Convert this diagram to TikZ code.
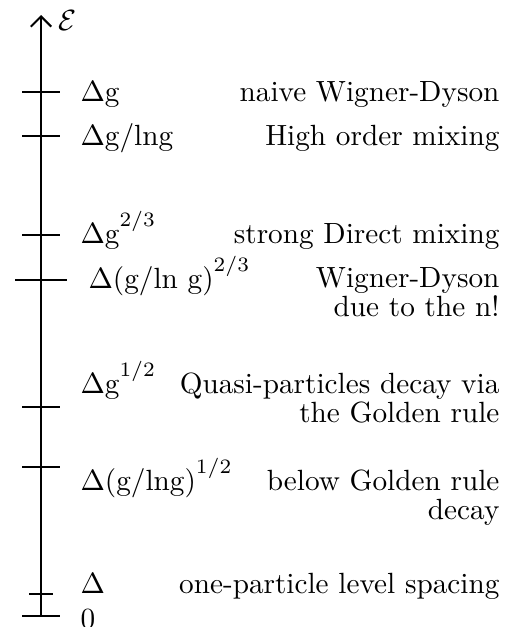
\documentclass[tikz,border=0pt]{standalone}
\usetikzlibrary{arrows.meta}
\newcommand{\supr}[1]{\raisebox{5.6pt}{$\scriptstyle #1$}}
\begin{document}
\begin{tikzpicture}[x=0.342pt,y=-0.342pt,
  lbl/.style={anchor=base west,inner sep=0pt},
  rlbl/.style={anchor=base east,inner sep=0pt,align=right,
    font=\fontsize{10pt}{9.8pt}\selectfont},
  tick/.style={line width=0.7pt}]
\useasboundingbox (0,0) rectangle (511,627);
\coordinate (bot) at (41,616);
\coordinate (top) at (41,15);
\draw[line width=0.7pt,-{Straight Barb[length=3.5pt,width=7pt,line width=0.7pt]}] (bot) -- (top);
\node[inner sep=0pt,anchor=base west] (E) at (58,30) {$\mathcal{E}$};
% ticks
\draw[tick] (22,92) -- (60,92);
\draw[tick] (22,136) -- (60,136);
\draw[tick] (22,235) -- (60,235);
\draw[tick] (15,280) -- (67,280);
\draw[tick] (22,407) -- (60,407);
\draw[tick] (22,467) -- (60,467);
\draw[tick] (29,594) -- (53,594);
\draw[tick] (22,616) -- (60,616);
% left labels
\node[lbl] (l1) at (80,101) {$\Delta$g};
\node[lbl] (l2) at (80,145) {$\Delta$g/lng};
\node[lbl] (l3) at (80,243) {$\Delta$g\supr{2/3}};
\node[lbl] (l4) at (88,288) {$\Delta$(g/ln g)\supr{2/3}};
\node[lbl] (l5) at (80,393) {$\Delta$g\supr{1/2}};
\node[lbl] (l6) at (80,490) {$\Delta$(g/lng)\supr{1/2}};
\node[lbl] (l7) at (80,593) {$\Delta$};
\node[lbl] (l8) at (80,628) {0};
% right labels
\node[rlbl] (r1) at (500,101) {naive Wigner-Dyson};
\node[rlbl] (r2) at (500,145) {High order mixing};
\node[rlbl] (r3) at (500,243) {strong Direct mixing};
\node[rlbl] (r4) at (500,316) {Wigner-Dyson\\due to the n!};
\node[rlbl] (r5) at (500,422) {Quasi-particles decay via\\the Golden rule};
\node[rlbl] (r6) at (500,519) {below Golden rule\\decay};
\node[rlbl] (r7) at (500,593) {one-particle level spacing};
\end{tikzpicture}
\end{document}
